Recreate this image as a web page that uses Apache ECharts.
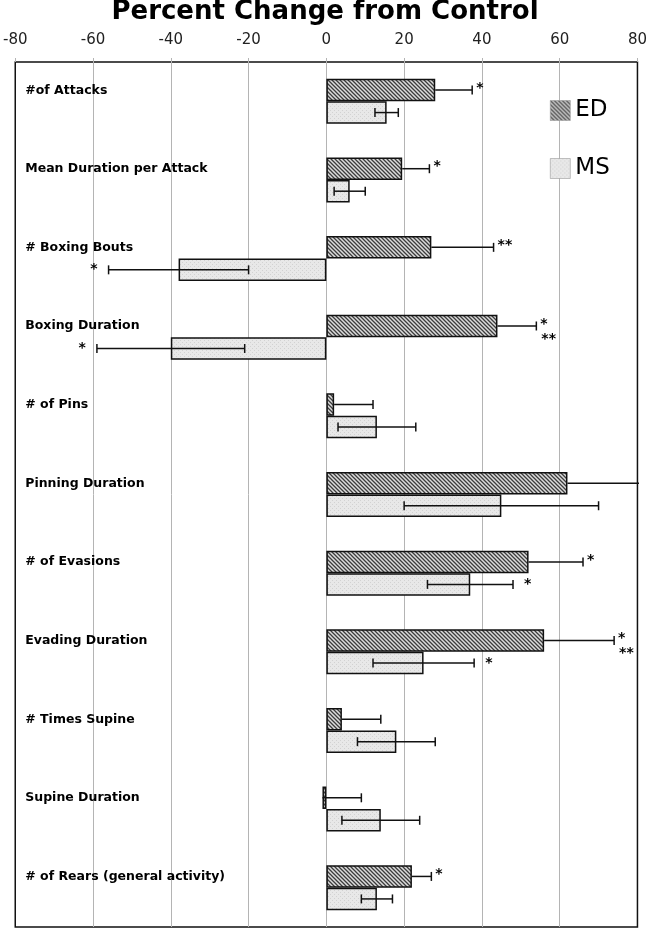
<!DOCTYPE html>
<html>
<head>
    <meta charset="utf-8">
    <title>Percent Change from Control</title>
    <script src="https://cdn.jsdelivr.net/npm/echarts@6/dist/echarts.min.js"></script>
    <style>
        html, body { margin: 0; padding: 0; background: #fff; }
    </style>
</head>
<body>
<div id="main" style="width: 650px;height:929px;"></div>
<script type="text/javascript">
    // values (percent change from control)
    var categories = ['#of Attacks', 'Mean Duration per Attack', '# Boxing Bouts', 'Boxing Duration',
        '# of Pins', 'Pinning Duration', '# of Evasions', 'Evading Duration',
        '# Times Supine', 'Supine Duration', '# of Rears (general activity)'];
    var edValues = [28, 19.5, 27, 44, 2, 62, 52, 56, 4, -1, 22];
    var edErrors = [9.5, 7, 16, 10, 10, 22, 14, 18, 10, 10, 5];
    var msValues = [15.5, 6, -38, -40, 13, 45, 37, 25, 18, 14, 13];
    var msErrors = [3, 4, 18, 19, 10, 25, 11, 13, 10, 10, 4];
    // significance marks
    var edStars = ['*', '*', '**', '*', '', '', '*', '*', '', '', '*'];
    var edStars2 = ['', '', '', '**', '', '', '', '**', '', '', ''];
    var msStars = ['', '', '*', '*', '', '', '*', '*', '', '', ''];
    var xTicks = [-80, -60, -40, -20, 0, 20, 40, 60, 80];

    function hatchPattern() {
        var c = document.createElement('canvas');
        c.width = 4; c.height = 4;
        var g = c.getContext('2d');
        g.fillStyle = '#dcdcdc';
        g.fillRect(0, 0, 4, 4);
        g.strokeStyle = '#3c3c3c';
        g.lineWidth = 1.3;
        g.beginPath();
        g.moveTo(0, 0); g.lineTo(4, 4);
        g.moveTo(-1, 3); g.lineTo(1, 5);
        g.moveTo(3, -1); g.lineTo(5, 1);
        g.stroke();
        return c;
    }

    function dotPattern() {
        var c = document.createElement('canvas');
        c.width = 4; c.height = 4;
        var g = c.getContext('2d');
        g.fillStyle = '#e8e8e8';
        g.fillRect(0, 0, 4, 4);
        g.fillStyle = '#d2d2d2';
        g.fillRect(0, 0, 1, 1);
        g.fillRect(2, 2, 1, 1);
        return c;
    }

    var barFrac = 0.286;
    var font = 'DejaVu Sans';

    function seg(x1, y1, x2, y2) {
        return {
            type: 'line',
            shape: {x1: x1, y1: y1, x2: x2, y2: y2},
            style: {stroke: '#111', lineWidth: 1.5}
        };
    }

    function txt(s, x, y, size, align, bold) {
        return {
            type: 'text',
            style: {
                text: s, x: x, y: y,
                fill: '#000',
                font: (bold ? 'bold ' : '') + size + 'px "' + font + '"',
                textAlign: align || 'left',
                textVerticalAlign: 'middle'
            }
        };
    }

    function renderItem(params, api) {
        var i = api.value(1);
        var band = api.size([0, 1])[1];
        var h = band * barFrac;
        var c = api.coord([0, i]);
        var yEd = c[1] - h / 2;
        var yMs = c[1] + h / 2;
        var cap = 4.5;
        var ed = api.value(0), edE = api.value(2);
        var ms = api.value(3), msE = api.value(4);
        var kids = [];

        // ED: plus side only
        var e0 = api.coord([ed, i])[0];
        var e1 = api.coord([ed + edE, i])[0];
        kids.push(seg(e0, yEd, e1, yEd), seg(e1, yEd - cap, e1, yEd + cap));

        // MS: both sides
        var m0 = api.coord([ms - msE, i])[0];
        var m1 = api.coord([ms + msE, i])[0];
        kids.push(seg(m0, yMs, m1, yMs), seg(m0, yMs - cap, m0, yMs + cap), seg(m1, yMs - cap, m1, yMs + cap));

        // category label inside the plot
        var left = api.coord([-80, i])[0];
        kids.push(txt(categories[i], left + 10, c[1] - 11, 12.5, 'left', true));

        if (edStars[i]) kids.push(txt(edStars[i], e1 + 4, yEd - 2, 14, 'left', true));
        if (edStars2[i]) kids.push(txt(edStars2[i], e1 + 5, c[1] + 2, 14, 'left', true));
        if (msStars[i]) {
            if (ms < 0) kids.push(txt(msStars[i], m0 - 11, yMs, 14, 'right', true));
            else kids.push(txt(msStars[i], m1 + 11, yMs, 14, 'left', true));
        }
        return {type: 'group', children: kids};
    }

    var errData = categories.map(function (name, i) {
        return [edValues[i], i, edErrors[i], msValues[i], msErrors[i]];
    });

    var myChart = echarts.init(document.getElementById('main'));
    var option = {
        animation: false,
        title: {
            text: 'Percent Change from Control',
            left: 'center',
            top: -6,
            textStyle: {fontFamily: font, fontSize: 26, fontWeight: 'bold', color: '#000'}
        },
        legend: {
            data: ['ED', 'MS'],
            orient: 'vertical',
            left: 545,
            top: 94,
            icon: 'rect',
            itemWidth: 20,
            itemHeight: 20,
            itemGap: 35,
            itemStyle: {borderColor: '#999', borderWidth: 0.6},
            textStyle: {fontFamily: font, fontSize: 23, color: '#000'}
        },
        grid: {
            left: 12, right: 10, top: 62, bottom: 2,
            show: true,
            borderColor: '#111',
            borderWidth: 1.5
        },
        xAxis: {
            type: 'value',
            position: 'top',
            min: xTicks[0],
            max: xTicks[xTicks.length - 1],
            interval: 20,
            axisLine: {show: false},
            axisTick: {show: true, length: 4, lineStyle: {color: '#b4b4b4'}},
            axisLabel: {fontFamily: font, fontSize: 15, color: '#222', margin: 14},
            splitLine: {showMinLine: false, showMaxLine: false, lineStyle: {color: '#b4b4b4', width: 1}}
        },
        yAxis: {
            type: 'category',
            inverse: true,
            data: categories,
            axisLine: {show: false},
            axisTick: {show: false},
            axisLabel: {show: false},
            splitLine: {show: false}
        },
        series: [{
            name: 'ED',
            type: 'bar',
            data: edValues,
            barWidth: (barFrac * 100) + '%',
            barGap: '0%',
            itemStyle: {
                color: {image: hatchPattern(), repeat: 'repeat'},
                borderColor: '#111',
                borderWidth: 1.5
            }
        }, {
            name: 'MS',
            type: 'bar',
            data: msValues,
            barWidth: (barFrac * 100) + '%',
            barGap: '0%',
            itemStyle: {
                color: {image: dotPattern(), repeat: 'repeat'},
                borderColor: '#111',
                borderWidth: 1.5
            }
        }, {
            name: 'err',
            type: 'custom',
            renderItem: renderItem,
            clip: true,
            encode: {x: 0, y: 1},
            data: errData,
            z: 5,
            silent: true
        }]
    };
    myChart.setOption(option);
</script>
</body>
</html>
